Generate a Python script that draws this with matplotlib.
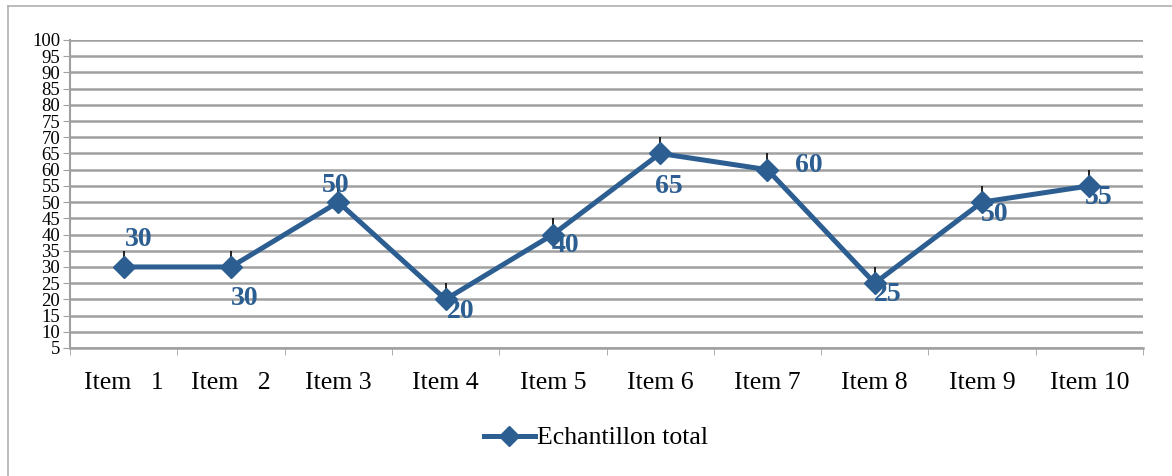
import matplotlib.pyplot as plt
from matplotlib.lines import Line2D
import numpy as np

items = ['Item   1', 'Item   2', 'Item 3', 'Item 4', 'Item 5',
         'Item 6', 'Item 7', 'Item 8', 'Item 9', 'Item 10']
valeurs = [30, 30, 50, 20, 40, 65, 60, 25, 50, 55]
erreur_haut = [5, 5, 5, 5, 5, 5, 5, 5, 5, 5]
# decalage des etiquettes (en points) par rapport au point
decalages = [(11, 20), (10, -23), (-2, 12), (11, -9), (9, -8),
             (6, -24), (30, 3), (9, -8), (9, -9), (7, -8)]

bleu = '#2c5e92'
gris = '#a0a0a0'
plt.rcParams['font.family'] = ['Liberation Serif', 'DejaVu Serif']

fig = plt.figure(figsize=(11.72, 4.76), dpi=100)
ax = fig.add_axes([70/1172, 1 - 348/476, (1143-70)/1172, (348-40)/476])

x = np.arange(len(valeurs))
ax.errorbar(x, valeurs, yerr=[np.zeros(len(valeurs)), erreur_haut],
            fmt='none', ecolor='black', elinewidth=1.2, capsize=0, zorder=2)
ax.plot(x, valeurs, color=bleu, lw=3.6, marker='D', markersize=11,
        zorder=3)

for xi, v, (dx, dy) in zip(x, valeurs, decalages):
    ax.annotate(str(v), (xi, v), xytext=(dx, dy), textcoords='offset points',
                ha='center', va='center', fontsize=20, fontweight='bold',
                color=bleu, zorder=4)

ax.set_xlim(-0.5, len(valeurs) - 0.5)
ax.set_ylim(5, 100)
ax.set_yticks(range(5, 101, 5))
ax.tick_params(axis='y', labelsize=13.5, color=gris, length=5, pad=2)
ax.set_xticks(x)
ax.set_xticklabels(items, fontsize=18.5)
ax.set_xticks(np.arange(-0.5, len(valeurs)), minor=True)
ax.tick_params(axis='x', which='major', length=0, pad=17)
ax.tick_params(axis='x', which='minor', length=5, color=gris)
ax.grid(axis='y', color=gris, lw=1.8)
ax.set_axisbelow(True)
for s in ['top', 'right']:
    ax.spines[s].set_visible(False)
ax.spines['left'].set_color(gris)
ax.spines['bottom'].set_color(gris)
ax.spines['left'].set_linewidth(1.5)
ax.spines['bottom'].set_linewidth(1.8)

poignee = Line2D([], [], color=bleu, lw=3.6, marker='D', markersize=10)
fig.legend([poignee], ['Echantillon total'], loc='center',
           bbox_to_anchor=(596/1172, 1 - 438/476), frameon=False,
           fontsize=18.5, handlelength=2.0, handletextpad=0.1)

# cadre du graphique
fig.add_artist(Line2D([8/1172, 1], [1 - 6/476, 1 - 6/476], color='#b0b0b0', lw=1.2))
fig.add_artist(Line2D([8/1172, 8/1172], [0, 1 - 6/476], color='#b0b0b0', lw=1.2))

fig.savefig('out.png', dpi=100)
